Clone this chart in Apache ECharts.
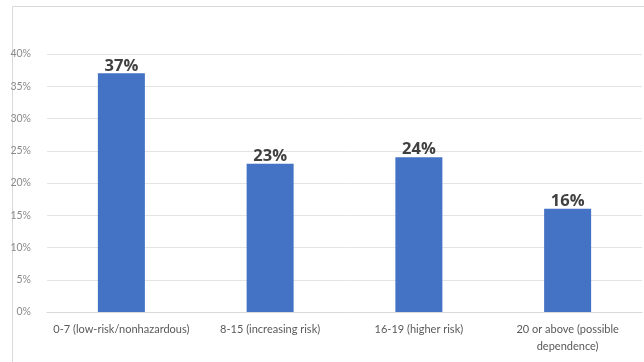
<!DOCTYPE html>
<html>
<head>
<meta charset="utf-8">
<script src="https://cdn.jsdelivr.net/npm/echarts@6/dist/echarts.min.js"></script>
<style>
  html, body { margin: 0; padding: 0; background: #ffffff; }
  #chart { width: 644px; height: 362px; }
</style>
</head>
<body>
<div id="chart"></div>
<script>
// AUDIT score groups and share of respondents (%)
const categories = [
  '0-7 (low-risk/nonhazardous)',
  '8-15 (increasing risk)',
  '16-19 (higher risk)',
  '20 or above (possible\ndependence)'
];
const shares = [37, 23, 24, 16];
const yTicks = { min: 0, max: 40, interval: 5 };

const chart = echarts.init(document.getElementById('chart'), null, { renderer: 'canvas' });

chart.setOption({
  animation: false,
  backgroundColor: '#ffffff',
  graphic: [{
    type: 'rect',
    shape: { x: 12.5, y: 6.5, width: 640, height: 370 },
    style: { fill: 'none', stroke: '#d9d9d9', lineWidth: 1 },
    silent: true
  }],
  grid: { left: 47, top: 54, width: 595, height: 258, containLabel: false },
  xAxis: {
    type: 'category',
    data: categories,
    axisLine: { lineStyle: { color: '#d9d9d9', width: 1 } },
    axisTick: { show: false },
    axisLabel: {
      interval: 0,
      color: '#595959',
      fontFamily: 'Lato',
      fontSize: 11,
      margin: 9,
      lineHeight: 17,
      align: 'center'
    }
  },
  yAxis: {
    type: 'value',
    min: yTicks.min,
    max: yTicks.max,
    interval: yTicks.interval,
    axisLine: { show: false },
    axisTick: { show: false },
    splitLine: { lineStyle: { color: '#e4e4e4', width: 1 } },
    axisLabel: {
      color: '#8a8a8a',
      fontFamily: 'Lato',
      fontSize: 10.5,
      margin: 16,
      formatter: '{value}%'
    }
  },
  series: [{
    type: 'bar',
    data: shares,
    barWidth: '31.6%',
    itemStyle: { color: '#4472c4' },
    label: {
      show: true,
      position: 'top',
      distance: -1,
      color: '#404040',
      fontFamily: 'Open Sans',
      fontWeight: 'bold',
      fontSize: 16.5,
      formatter: '{c}%'
    }
  }]
});
</script>
</body>
</html>
